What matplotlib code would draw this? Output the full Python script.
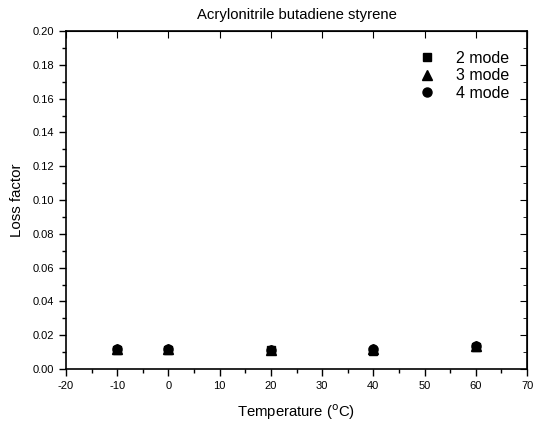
import numpy as np
import matplotlib.pyplot as plt
from matplotlib.ticker import MultipleLocator

plt.rcParams['font.family'] = ['Liberation Sans', 'DejaVu Sans']
plt.rcParams['axes.unicode_minus'] = False

temps = [-10, 0, 20, 40, 60]
mode2 = [0.0110, 0.0112, 0.0110, 0.0105, 0.0130]
mode3 = [0.0118, 0.0120, 0.0115, 0.0120, 0.0138]
mode4 = [0.0116, 0.0118, 0.0114, 0.0118, 0.0134]

fig = plt.figure(figsize=(5.34, 4.22), dpi=100)
ax = fig.add_axes([0.1236, 0.1256, 0.8634, 0.8009])

ax.plot(temps, mode2, 's', color='black', markersize=6, label='2 mode', linestyle='none')
ax.plot(temps, mode3, '^', color='black', markersize=6.5, label='3 mode', linestyle='none')
ax.plot(temps, mode4, 'o', color='black', markersize=6.5, label='4 mode', linestyle='none')

ax.set_xlim(-20, 70)
ax.set_ylim(0, 0.20)
ax.xaxis.set_major_locator(MultipleLocator(10))
ax.xaxis.set_minor_locator(MultipleLocator(5))
ax.yaxis.set_major_locator(MultipleLocator(0.02))
ax.yaxis.set_minor_locator(MultipleLocator(0.01))
ax.yaxis.set_major_formatter(plt.FormatStrFormatter('%.2f'))

ax.tick_params(which='both', direction='out', labelsize=8, width=1)
ax.tick_params(which='major', length=5)
ax.tick_params(which='minor', length=3)

# inward ticks on top and right
sec_x = ax.secondary_xaxis('top')
sec_x.xaxis.set_major_locator(MultipleLocator(10))
sec_x.tick_params(direction='in', length=5, labeltop=False)
sec_y = ax.secondary_yaxis('right')
sec_y.yaxis.set_major_locator(MultipleLocator(0.02))
sec_y.yaxis.set_minor_locator(MultipleLocator(0.01))
sec_y.tick_params(which='both', direction='in', labelright=False)
sec_y.tick_params(which='major', length=5)
sec_y.tick_params(which='minor', length=3)

for s in ax.spines.values():
    s.set_linewidth(1.2)

ax.set_title('Acrylonitrile butadiene styrene', fontsize=10.7, pad=9)
ax.set_xlabel('Temperature ($^{\\rm o}$C)', fontsize=10.7, labelpad=8)
ax.set_ylabel('Loss factor', fontsize=10.8, labelpad=6)

ax.legend(loc='upper right', bbox_to_anchor=(0.993, 0.984), frameon=False,
          fontsize=11.5, handletextpad=0.8, labelspacing=0.15)

fig.savefig('out.png', dpi=100)
